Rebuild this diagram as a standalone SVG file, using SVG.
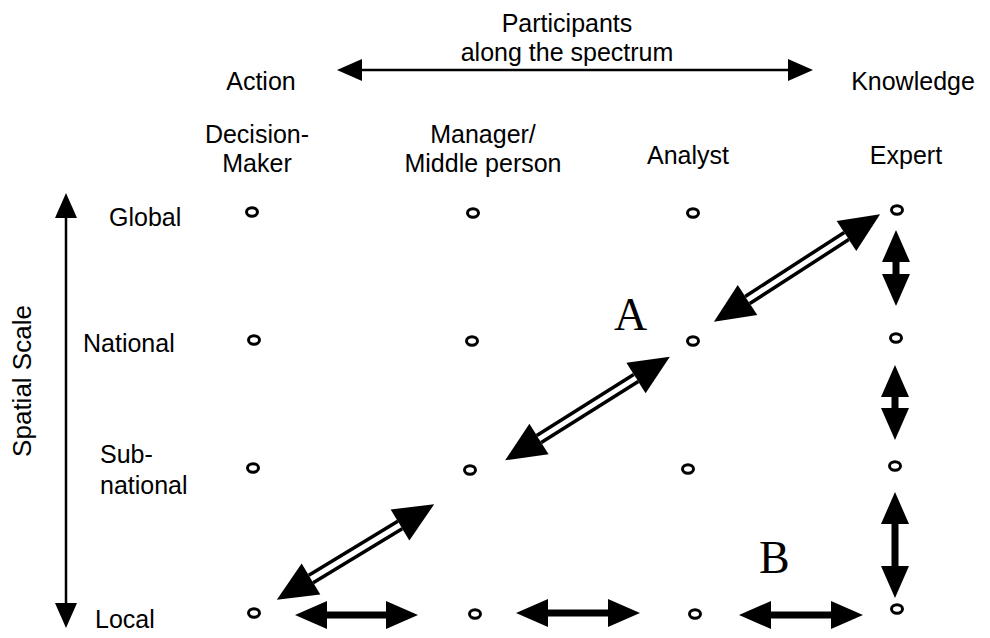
<svg xmlns="http://www.w3.org/2000/svg" width="990" height="638" viewBox="0 0 990 638">
  <defs>
    <style>
      text { font-family: "Liberation Sans", Arial, sans-serif; font-size: 25px; fill: #000; }
      .mid { text-anchor: middle; }
      .big { font-family: "Liberation Serif", "Times New Roman", serif; font-size: 46px; }
      .pt { fill: none; stroke: #000; stroke-width: 3; }
      .axis { stroke: #000; stroke-width: 2.5; fill: none; marker-start: url(#thin); marker-end: url(#thin); }
      .solid { stroke: #000; stroke-width: 7; fill: none; marker-start: url(#bold); marker-end: url(#bold); }
      .hollow-out { stroke: #000; stroke-width: 12; fill: none; marker-start: url(#wide); marker-end: url(#wide); }
      .hollow-in { stroke: #fff; stroke-width: 5; fill: none; }
    </style>
    <!-- heads are drawn from the base (x=0) to the tip; lines end at the base -->
    <marker id="thin" markerUnits="userSpaceOnUse" markerWidth="26" markerHeight="24" refX="0" refY="11" orient="auto-start-reverse" overflow="visible">
      <path d="M0,0 L25,11 L0,22 Z" fill="#000"/>
    </marker>
    <marker id="bold" markerUnits="userSpaceOnUse" markerWidth="34" markerHeight="30" refX="0" refY="14" orient="auto-start-reverse" overflow="visible">
      <path d="M0,0 L32,14 L0,28 Z" fill="#000"/>
    </marker>
    <marker id="wide" markerUnits="userSpaceOnUse" markerWidth="42" markerHeight="38" refX="0" refY="18" orient="auto-start-reverse" overflow="visible">
      <path d="M0,0 L40,18 L0,36 Z" fill="#000"/>
    </marker>
  </defs>

  <rect width="990" height="638" fill="#fff"/>

  <!-- header: participant spectrum -->
  <g id="spectrum">
    <text class="mid" x="567" y="32">Participants</text>
    <text class="mid" x="567" y="61">along the spectrum</text>
    <text class="mid" x="261" y="90">Action</text>
    <text class="mid" x="913" y="90">Knowledge</text>
  </g>

  <!-- column headings -->
  <g id="col-decision-maker">
    <text class="mid" x="257" y="143">Decision-</text>
    <text class="mid" x="257" y="172">Maker</text>
  </g>
  <g id="col-manager">
    <text class="mid" x="483" y="143">Manager/</text>
    <text class="mid" x="483" y="172">Middle person</text>
  </g>
  <g id="col-analyst">
    <text class="mid" x="688" y="164">Analyst</text>
  </g>
  <g id="col-expert">
    <text class="mid" x="906" y="164">Expert</text>
  </g>

  <!-- row headings -->
  <g id="row-global"><text x="109" y="226">Global</text></g>
  <g id="row-national"><text x="83" y="352">National</text></g>
  <g id="row-subnational">
    <text x="100" y="463">Sub-</text>
    <text x="100" y="494">national</text>
  </g>
  <g id="row-local"><text x="95" y="628">Local</text></g>
  <g id="axis-label">
    <text class="mid" style="font-size:26px" transform="translate(31,381) rotate(-90)">Spatial Scale</text>
  </g>

  <!-- grid points -->
  <g id="points">
    <ellipse class="pt" cx="252" cy="212" rx="5.5" ry="4.2"/>
    <ellipse class="pt" cx="473" cy="213" rx="5.5" ry="4.2"/>
    <ellipse class="pt" cx="693" cy="213" rx="5.5" ry="4.2"/>
    <ellipse class="pt" cx="897" cy="210" rx="5.5" ry="4.2"/>

    <ellipse class="pt" cx="254" cy="340" rx="5.5" ry="4.2"/>
    <ellipse class="pt" cx="472" cy="341" rx="5.5" ry="4.2"/>
    <ellipse class="pt" cx="693" cy="341" rx="5.5" ry="4.2"/>
    <ellipse class="pt" cx="896" cy="338" rx="5.5" ry="4.2"/>

    <ellipse class="pt" cx="253" cy="468" rx="5.5" ry="4.2"/>
    <ellipse class="pt" cx="470" cy="470" rx="5.5" ry="4.2"/>
    <ellipse class="pt" cx="688" cy="469" rx="5.5" ry="4.2"/>
    <ellipse class="pt" cx="895" cy="466" rx="5.5" ry="4.2"/>

    <ellipse class="pt" cx="254" cy="613" rx="5.5" ry="4.2"/>
    <ellipse class="pt" cx="475" cy="614" rx="5.5" ry="4.2"/>
    <ellipse class="pt" cx="695" cy="614" rx="5.5" ry="4.2"/>
    <ellipse class="pt" cx="897" cy="609" rx="5.5" ry="4.2"/>
  </g>

  <g id="label-a"><text class="big" x="614" y="330">A</text></g>
  <g id="label-b"><text class="big" x="759" y="573">B</text></g>

  <!-- connectors -->
  <g id="connectors">
    <line class="axis" x1="362" y1="70" x2="788" y2="70"/>
    <line class="axis" x1="66" y1="218" x2="66" y2="603"/>

    <!-- diagonal hollow arrows -->
    <line class="hollow-out" x1="311" y1="579" x2="400" y2="525"/>
    <line class="hollow-in" x1="311" y1="579" x2="400" y2="525"/>
    <line class="hollow-out" x1="539" y1="439" x2="636" y2="378"/>
    <line class="hollow-in" x1="539" y1="439" x2="636" y2="378"/>
    <line class="hollow-out" x1="747.5" y1="300" x2="846.5" y2="236"/>
    <line class="hollow-in" x1="747.5" y1="300" x2="846.5" y2="236"/>

    <!-- solid arrows along the bottom row -->
    <line class="solid" x1="327" y1="615" x2="386" y2="615"/>
    <line class="solid" x1="548" y1="613" x2="608" y2="613"/>
    <line class="solid" x1="771" y1="615" x2="831" y2="615"/>

    <!-- solid arrows down the expert column -->
    <line class="solid" x1="896" y1="262" x2="896" y2="274"/>
    <line class="solid" x1="895" y1="397" x2="895" y2="408"/>
    <line class="solid" x1="895" y1="524" x2="895" y2="566"/>
  </g>
</svg>
